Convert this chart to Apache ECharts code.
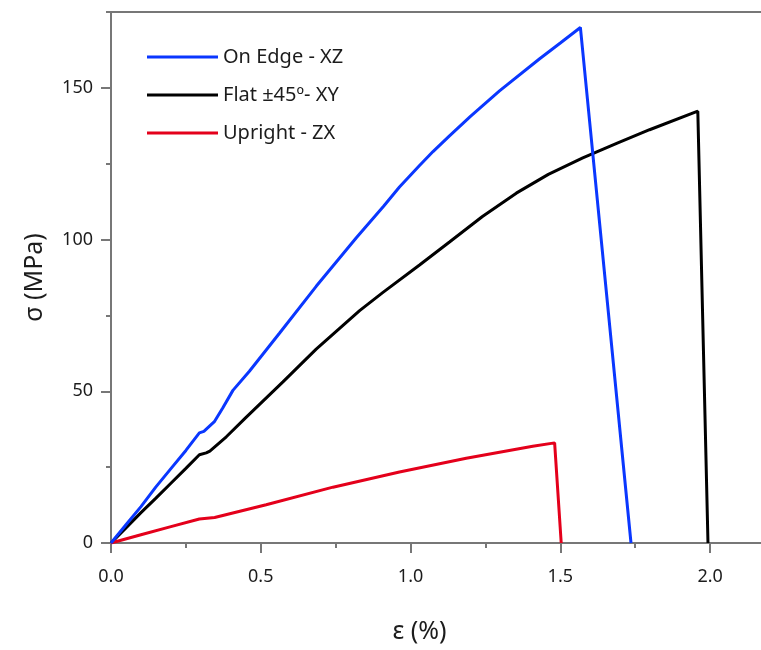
<!DOCTYPE html>
<html>
<head>
<meta charset="utf-8">
<script src="https://cdn.jsdelivr.net/npm/echarts@6/dist/echarts.min.js"></script>
<style>html,body{margin:0;padding:0;background:#fff;}#c{width:761px;height:650px;}</style>
</head>
<body>
<div id="c"></div>
<script>
// Data
var seriesNames = ['On Edge - XZ', 'Flat \u00b145\u00ba- XY', 'Upright - ZX'];
var edgeStrain = [0, 0.05, 0.1, 0.15, 0.2, 0.25, 0.295, 0.31, 0.346, 0.373, 0.407, 0.462, 0.563, 0.685, 0.819, 0.91, 0.963, 1.03, 1.075, 1.13, 1.2, 1.297, 1.431, 1.5, 1.567, 1.736];
var edgeStress = [0, 6, 12, 18.5, 24.5, 30.5, 36.3, 36.8, 40.1, 44.5, 50.3, 56.6, 69.2, 84.6, 100.6, 111, 117.3, 124.4, 129, 134.2, 140.6, 149, 159.6, 164.8, 169.9, 0];
var flatStrain = [0, 0.05, 0.1, 0.15, 0.2, 0.25, 0.295, 0.318, 0.33, 0.385, 0.45, 0.574, 0.685, 0.83, 0.908, 1.03, 1.13, 1.24, 1.353, 1.46, 1.575, 1.69, 1.798, 1.959, 1.993];
var flatStress = [0, 5, 10, 14.8, 19.7, 24.6, 29.1, 29.7, 30.3, 35, 41.3, 53.1, 63.9, 76.6, 82.6, 91.6, 99.2, 107.6, 115.3, 121.5, 126.9, 131.8, 136.2, 142.3, 0];
var uprightStrain = [0, 0.1, 0.2, 0.295, 0.346, 0.518, 0.741, 0.963, 1.186, 1.408, 1.481, 1.503];
var uprightStress = [0, 2.7, 5.4, 7.9, 8.4, 12.6, 18.4, 23.4, 27.9, 31.9, 33, 0];
var xMajor = [0, 0.5, 1, 1.5, 2];
var xMinor = [0.25, 0.75, 1.25, 1.75];
var yMajor = [0, 50, 100, 150];
var yMinor = [25, 75, 125, 175];

function pairs(xs, ys) { return xs.map(function (x, i) { return [x, ys[i]]; }); }

var FONT = '"Noto Sans", sans-serif';
var TXT = '#1c1c1c';
var AX = '#777777';

var chart = echarts.init(document.getElementById('c'), null, {renderer: 'canvas'});
chart.setOption({
  animation: false,
  backgroundColor: '#ffffff',
  grid: {left: 111, top: 12, width: 659, bottom: 107, show: true, borderColor: AX, borderWidth: 2,
    containLabel: false, outerBoundsMode: 'none'},
  legend: {
    orient: 'vertical', left: 142, top: 40,
    itemWidth: 71, itemHeight: 24, itemGap: 14, itemTextGap: 10,
    icon: 'path://M0,6 L71,6 L71,9 L0,9 Z',
    textStyle: {fontFamily: FONT, fontSize: 20, lineHeight: 24, color: TXT},
    data: seriesNames
  },
  xAxis: [{
    type: 'value', min: 0, max: 2.2, interval: 0.5,
    name: '\u03b5 (%)', nameLocation: 'middle', nameGap: 76,
    nameTextStyle: {fontFamily: FONT, fontSize: 25, color: TXT, padding: [0, 42, 0, 0]},
    axisLine: {show: true, lineStyle: {color: AX, width: 2}},
    axisTick: {show: true, inside: false, length: 10, lineStyle: {color: AX, width: 2}, customValues: xMajor},
    axisLabel: {fontFamily: FONT, fontSize: 18, color: TXT, margin: 25, customValues: xMajor,
      formatter: function (v) { return v.toFixed(1); }},
    splitLine: {show: false}
  }, {
    type: 'value', min: 0, max: 2.2, position: 'bottom',
    axisLine: {show: false},
    axisTick: {show: true, length: 5, lineStyle: {color: AX, width: 2}, customValues: xMinor},
    axisLabel: {show: false},
    splitLine: {show: false}
  }],
  yAxis: [{
    type: 'value', min: 0, max: 175, interval: 50,
    name: '\u03c3 (MPa)', nameLocation: 'middle', nameGap: 64,
    nameTextStyle: {fontFamily: FONT, fontSize: 25, color: TXT},
    axisLine: {show: true, lineStyle: {color: AX, width: 2}},
    axisTick: {show: true, length: 10, lineStyle: {color: AX, width: 2}, customValues: yMajor},
    axisLabel: {fontFamily: FONT, fontSize: 18, color: TXT, margin: 18, customValues: yMajor},
    splitLine: {show: false}
  }, {
    type: 'value', min: 0, max: 175, position: 'left',
    axisLine: {show: false},
    axisTick: {show: true, length: 5, lineStyle: {color: AX, width: 2}, customValues: yMinor},
    axisLabel: {show: false},
    splitLine: {show: false}
  }],
  series: [
    {name: seriesNames[0], type: 'line', showSymbol: false, z: 4, data: pairs(edgeStrain, edgeStress),
      lineStyle: {color: '#0A37FF', width: 3}, itemStyle: {color: '#0A37FF'}},
    {name: seriesNames[1], type: 'line', showSymbol: false, z: 3, data: pairs(flatStrain, flatStress),
      lineStyle: {color: '#000000', width: 3}, itemStyle: {color: '#000000'}},
    {name: seriesNames[2], type: 'line', showSymbol: false, z: 3, data: pairs(uprightStrain, uprightStress),
      lineStyle: {color: '#E4001B', width: 3}, itemStyle: {color: '#E4001B'}}
  ]
});
</script>
</body>
</html>
